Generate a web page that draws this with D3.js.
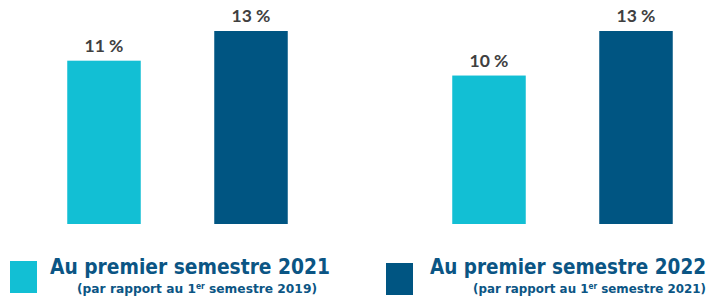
<!DOCTYPE html>
<html>
<head>
<meta charset="utf-8">
<script src="https://cdn.jsdelivr.net/npm/d3@7"></script>
<style>
  body { margin: 0; background: #fff; }
  svg { display: block; }
</style>
</head>
<body>
<svg id="chart"></svg>
<script>
var screen = {width: 713, height: 300}

// data
var panels = ["A", "B"]
var series = ["s2021", "s2022"]
var values2021 = [11, 10]
var values2022 = [13, 13]
var seriesTitles = ["Au premier semestre 2021", "Au premier semestre 2022"]
var seriesRefYears = ["2019", "2021"]

var colors = {s2021: "#12bfd4", s2022: "#005582"}

var data = panels.map(function(p, i) {
    return {panel: p, bars: [
        {key: "s2021", value: values2021[i]},
        {key: "s2022", value: values2022[i]}
    ]}
})

var svg = d3.select("#chart")
    .attr("width", screen.width)
    .attr("height", screen.height)

var xPanel = d3.scalePoint()
    .domain(panels)
    .range([177.5, 562.5])

var xBar = d3.scaleBand()
    .domain(series)
    .range([-147, 147])
    .paddingInner(0.5)
    .paddingOuter(0.25)

var yScale = d3.scaleLinear()
    .domain([0, 13])
    .range([224, 31])

var groups = svg.selectAll("g.panel")
    .data(data)
    .enter()
    .append("g")
    .attr("class", "panel")
    .attr("transform", function(d) { return "translate(" + xPanel(d.panel) + ",0)" })

groups.selectAll("rect")
    .data(function(d) { return d.bars })
    .enter()
    .append("rect")
    .attr("x", function(d) { return xBar(d.key) })
    .attr("width", xBar.bandwidth())
    .attr("y", function(d) { return yScale(d.value) })
    .attr("height", function(d) { return yScale(0) - yScale(d.value) })
    .attr("fill", function(d) { return colors[d.key] })

groups.selectAll("text.lbl")
    .data(function(d) { return d.bars })
    .enter()
    .append("text")
    .attr("class", "lbl")
    .attr("x", function(d) { return xBar(d.key) + xBar.bandwidth() / 2 })
    .attr("y", function(d) { return yScale(d.value) - 9 })
    .attr("text-anchor", "middle")
    .attr("font-family", "Lato, 'Open Sans', sans-serif")
    .attr("font-weight", "bold")
    .attr("font-size", 17.5)
    .attr("fill", "#404040")
    .text(function(d) { return d.value + " %" })

// legend
var legendX = [10, 386]
var legend = svg.selectAll("g.legend")
    .data(series)
    .enter()
    .append("g")
    .attr("class", "legend")
    .attr("transform", function(d, i) { return "translate(" + legendX[i] + ",0)" })

legend.append("rect")
    .attr("x", 0)
    .attr("y", function(d, i) { return i == 0 ? 261 : 263 })
    .attr("width", 27)
    .attr("height", 32)
    .attr("fill", function(d) { return colors[d] })

legend.append("text")
    .attr("x", function(d, i) { return i == 0 ? 40 : 44 })
    .attr("y", 274)
    .attr("font-family", "'DejaVu Sans', sans-serif")
    .attr("font-weight", "bold")
    .attr("font-size", 22)
    .attr("fill", "#0b5584")
    .attr("textLength", function(d, i) { return i == 0 ? 280 : 276 })
    .attr("lengthAdjust", "spacingAndGlyphs")
    .text(function(d, i) { return seriesTitles[i] })

var sub = legend.append("text")
    .attr("x", function(d, i) { return i == 0 ? 67 : 87 })
    .attr("y", 293)
    .attr("font-family", "'DejaVu Sans', sans-serif")
    .attr("font-weight", "bold")
    .attr("font-size", 13)
    .attr("fill", "#0b5584")
    .attr("textLength", function(d, i) { return i == 0 ? 240 : 233 })
    .attr("lengthAdjust", "spacingAndGlyphs")

sub.append("tspan").text("(par rapport au 1")
sub.append("tspan").attr("font-size", 8).attr("baseline-shift", "super").text("er")
sub.append("tspan").text(function(d, i) { return " semestre " + seriesRefYears[i] + ")" })
</script>
</body>
</html>
